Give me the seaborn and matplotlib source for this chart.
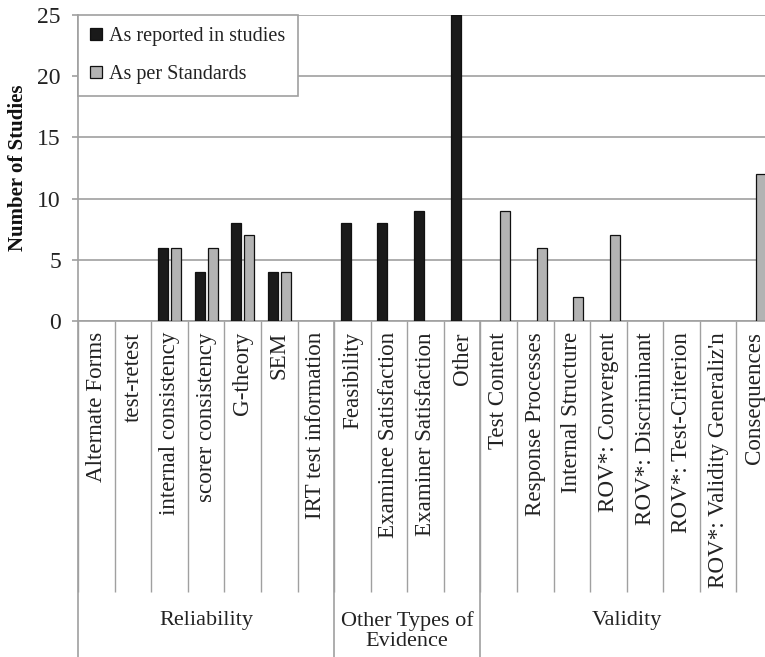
import numpy as np
import pandas as pd
import matplotlib
matplotlib.use("Agg")
import matplotlib.pyplot as plt
import seaborn as sns

categories = [
    "Alternate Forms", "test-retest", "internal consistency", "scorer consistency",
    "G-theory", "SEM", "IRT test information",
    "Feasibility", "Examinee Satisfaction", "Examiner Satisfaction", "Other",
    "Test Content", "Response Processes", "Internal Structure", "ROV*: Convergent",
    "ROV*: Discriminant", "ROV*: Test-Criterion", "ROV*: Validity Generaliz'n", "Consequences",
]
reported = [None, None, 6, 4, 8, 4, None, 8, 8, 9, 25,
            None, None, None, None, None, None, None, None]
standards = [None, None, 6, 6, 7, 4, None, None, None, None, None,
             9, 6, 2, 7, None, None, None, 12]
series_names = ["As reported in studies", "As per Standards"]
groups = ["Reliability", "Other Types of\nEvidence", "Validity"]
group_sizes = [7, 4, 8]
yticks = [0, 5, 10, 15, 20, 25]

rows = []
for name, vals in zip(series_names, [reported, standards]):
    for c, v in zip(categories, vals):
        if v is not None:
            rows.append({"category": c, "series": name, "value": v})
df = pd.DataFrame(rows)

sns.set_theme(style="white")
plt.rcParams["font.family"] = ["Liberation Serif", "DejaVu Serif"]

fig = plt.figure(figsize=(7.65, 6.57), dpi=100)
ax = fig.add_axes([0.102, 0.5114, 0.9085, 0.4658])

sns.barplot(data=df, x="category", y="value", hue="series", order=categories,
            hue_order=series_names, palette=["#1a1a1a", "#b3b3b3"],
            width=0.71, gap=0.23, errorbar=None, edgecolor="#111111",
            linewidth=0.9, ax=ax, zorder=3)

grid_c = "#a0a0a0"
ax.set_xlim(-0.5, len(categories) - 0.5)
ax.set_ylim(0, 25)
ax.set_yticks(yticks)
ax.yaxis.grid(True, color=grid_c, linewidth=1.2, zorder=0)
ax.set_axisbelow(True)
for s in ["top", "right"]:
    ax.spines[s].set_visible(False)
for s in ["left", "bottom"]:
    ax.spines[s].set_color(grid_c)
    ax.spines[s].set_linewidth(1.2)

ax.set_xlabel("")
ax.set_ylabel("Number of Studies", fontsize=15, fontweight="bold", labelpad=7, color="#111111")
ax.tick_params(axis="y", which="major", length=4.3, width=1.2, color=grid_c,
               labelsize=17, pad=8, labelcolor="#222222", left=True)
ax.set_xticks(range(len(categories)))
ax.set_xticklabels(categories, rotation=90, fontsize=16.6, color="#222222")
ax.tick_params(axis="x", which="major", length=0, pad=8, bottom=True)
ax.set_xticks(np.arange(-0.5, len(categories), 1), minor=True)
ax.tick_params(axis="x", which="minor", length=195, width=1.0, color=grid_c, bottom=True)

trans = ax.get_xaxis_transform()
bounds = [-0.5]
for g in group_sizes:
    bounds.append(bounds[-1] + g)
for b in bounds:
    ax.plot([b, b], [0, -1.3], transform=trans, color=grid_c, linewidth=1.2,
            clip_on=False, zorder=1)
for i, g in enumerate(groups):
    cx = (bounds[i] + bounds[i + 1]) / 2
    ax.text(cx, -0.978 if "\n" not in g else -1.014, g, transform=trans, ha="center",
            va="center", fontsize=16, color="#222222", linespacing=1.1)

handles, labels = ax.get_legend_handles_labels()
if ax.get_legend() is not None:
    ax.get_legend().remove()
leg = ax.legend(handles, labels, loc="upper left", bbox_to_anchor=(0, 1),
                borderaxespad=0, fancybox=False, frameon=True, fontsize=14.5,
                handlelength=0.6, handleheight=0.6, handletextpad=0.35,
                labelspacing=0.95, borderpad=0.6, framealpha=1)
leg.get_frame().set_edgecolor(grid_c)
leg.get_frame().set_linewidth(1.2)
for t in leg.get_texts():
    t.set_color("#222222")

fig.savefig("out.png", dpi=100)
